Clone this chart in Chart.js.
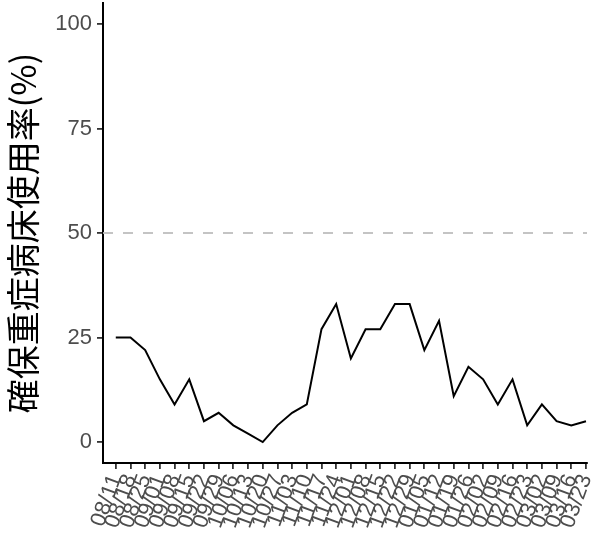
<!DOCTYPE html>
<html>
<head>
<meta charset="utf-8">
<script src="https://cdn.jsdelivr.net/npm/chart.js@4/dist/chart.umd.min.js"></script>
<style>
html,body{margin:0;padding:0;background:#fff;overflow:hidden;}
canvas{display:block;}
</style>
</head>
<body>
<canvas id="c" width="597" height="563"></canvas>
<script>
const dates = ['08/11','08/18','08/25','09/01','09/08','09/15','09/22','09/29','10/06','10/13','10/20','10/27','11/03','11/10','11/17','11/24','12/01','12/08','12/15','12/22','12/29','01/05','01/12','01/19','01/26','02/02','02/09','02/16','02/23','03/02','03/09','03/16','03/23'];
const usageRate = [25,25,22,15,9,15,5,7,4,2,0,4,7,9,27,33,20,27,27,33,33,22,29,11,18,15,9,15,4,9,5,4,5];
const yTicks = [0,25,50,75,100];
const refLevel = 50;
const yTitle = '確保重症病床使用率(%)';

const xMin = -0.87, xMax = 32.07;

new Chart(document.getElementById('c'), {
  type: 'line',
  data: {
    datasets: [
      {
        data: usageRate.map((v,i)=>({x:i,y:v})),
        borderColor: '#000',
        borderWidth: 2,
        pointRadius: 0,
        tension: 0,
        order: 1
      },
      {
        data: [{x:xMin,y:refLevel},{x:xMax,y:refLevel}],
        borderColor: '#bebebe',
        borderWidth: 1.8,
        borderDash: [10,10],
        pointRadius: 0,
        order: 2
      }
    ]
  },
  options: {
    responsive: false,
    animation: false,
    devicePixelRatio: 1,
    layout: { padding: { top: 3, right: 10, left: 0, bottom: 0 } },
    plugins: { legend: { display: false }, tooltip: { enabled: false } },
    scales: {
      x: {
        type: 'linear',
        min: xMin, max: xMax,
        afterBuildTicks: s => { s.ticks = dates.map((d,i)=>({value:i})); },
        afterFit: s => { s.height = 100; s.paddingLeft = 0; s.paddingRight = 0; },
        ticks: {
          autoSkip: false,
          minRotation: 70, maxRotation: 70,
          padding: 2,
          color: '#4d4d4d',
          font: { family: 'Liberation Sans, Arial, sans-serif', size: 22 },
          callback: v => dates[v]
        },
        grid: { drawOnChartArea: false, drawTicks: true, tickLength: 6, color: '#333', lineWidth: 1.8 },
        border: { display: true, color: '#000', width: 2 }
      },
      y: {
        min: -5, max: 105,
        afterBuildTicks: s => { s.ticks = yTicks.map(v=>({value:v})); },
        afterFit: s => { s.width = 103; s.paddingTop = 0; s.paddingBottom = 0; },
        ticks: {
          padding: 5,
          color: '#4d4d4d',
          font: { family: 'Liberation Sans, Arial, sans-serif', size: 22 }
        },
        grid: { drawOnChartArea: false, drawTicks: true, tickLength: 6, color: '#333', lineWidth: 1.8 },
        border: { display: true, color: '#000', width: 2 },
        title: {
          display: true,
          text: yTitle,
          color: '#000',
          padding: { top: 3, bottom: 0 },
          font: { family: 'Noto Sans CJK JP, sans-serif', size: 34 }
        }
      }
    }
  }
});
</script>
</body>
</html>
